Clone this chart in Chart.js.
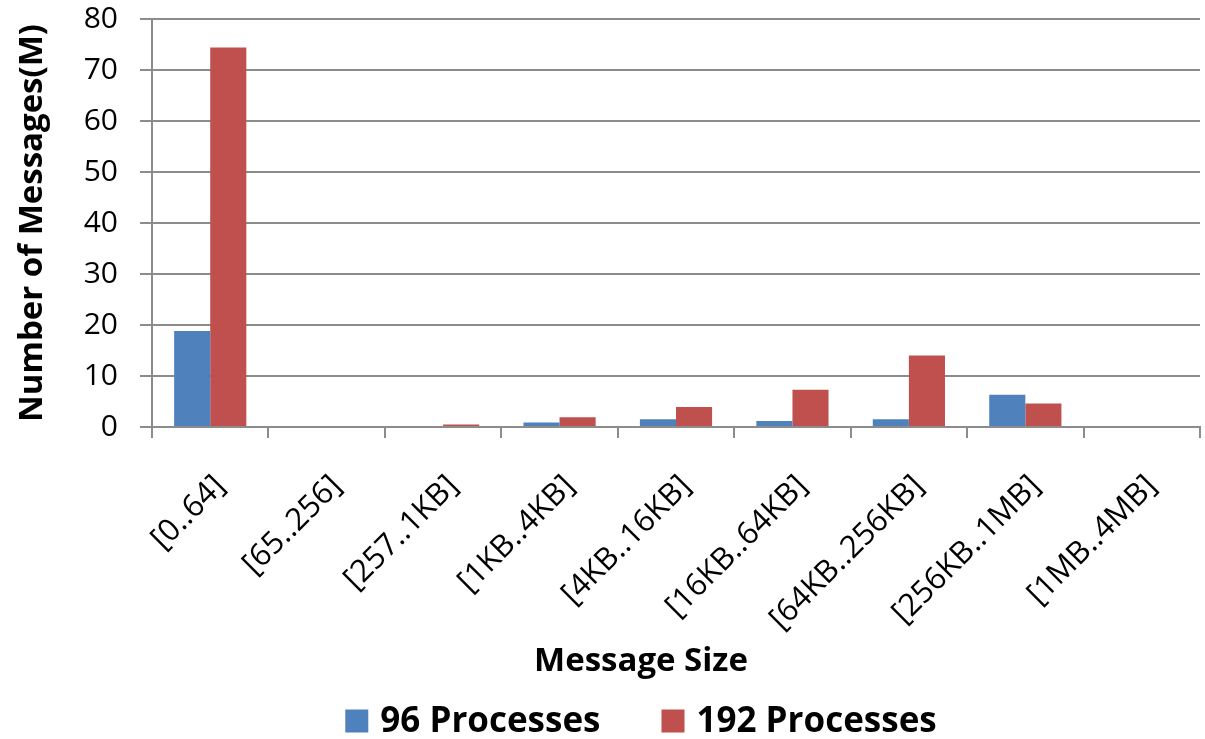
<!DOCTYPE html>
<html>
<head>
<meta charset="utf-8">
<script src="https://cdn.jsdelivr.net/npm/chart.js@4"></script>
<style>
  html, body { margin: 0; padding: 0; background: #fff; }
  #wrap { width: 1205px; height: 739px; }
</style>
</head>
<body>
<div id="wrap"><canvas id="bar"></canvas></div>
<script>
// message size buckets
const categories = ["[0..64]", "[65..256]", "[257..1KB]", "[1KB..4KB]", "[4KB..16KB]",
    "[16KB..64KB]", "[64KB..256KB]", "[256KB..1MB]", "[1MB..4MB]"];

// millions of messages
const procs96 = [18.8, 0, 0, 0.9, 1.5, 1.2, 1.5, 6.3, 0];
const procs192 = [74.4, 0, 0.5, 1.9, 3.9, 7.3, 14.0, 4.6, 0];

const yTicks = [0, 10, 20, 30, 40, 50, 60, 70, 80];

const xTitle = "Message Size";
const yTitle = "Number of Messages(M)";

const FONT = "'Open Sans', sans-serif";
const GRID = "#8c8c8c";

// x title and legend are drawn by hand so they can sit off the plot centre like the original
const titleAndLegend = {
    id: "titleAndLegend",
    afterDraw: function(chart)
    {
        let c = chart.ctx;
        const cx = 641;
        c.save();
        c.fillStyle = "#000";
        c.textBaseline = "middle";

        c.font = "bold 33px " + FONT;
        c.textAlign = "center";
        c.fillText(xTitle, cx, 662);

        c.font = "bold 35px " + FONT;
        c.textAlign = "left";
        const box = 23, gap = 12, itemGap = 61;
        const sets = chart.data.datasets;
        let total = 0;
        for(let i=0; i<sets.length; i++)
        {
            total += box + gap + c.measureText(sets[i].label).width;
            if(i > 0) total += itemGap;
        }
        let x = cx - total / 2;
        const y = 721;
        for(let i=0; i<sets.length; i++)
        {
            c.fillStyle = sets[i].backgroundColor;
            c.fillRect(x, y - box / 2, box, box);
            c.fillStyle = "#000";
            c.fillText(sets[i].label, x + box + gap, y + 1);
            x += box + gap + c.measureText(sets[i].label).width + itemGap;
        }
        c.restore();
    }
};

let ctx = document.getElementById("bar").getContext("2d");

const barData = {
    labels: categories,
    datasets: [
        {
            label: "96 Processes",
            data: procs96,
            backgroundColor: "#4f81bd",
            categoryPercentage: 0.62,
            barPercentage: 1.0
        },
        {
            label: "192 Processes",
            data: procs192,
            backgroundColor: "#c0504d",
            categoryPercentage: 0.62,
            barPercentage: 1.0
        }
    ]
};

const options = {
    responsive: true,
    maintainAspectRatio: false,
    animation: false,
    layout: {
        padding: { left: 8, right: 5, top: 19, bottom: 0 }
    },
    plugins: {
        legend: { display: false },
        tooltip: { enabled: false }
    },
    scales: {
        x: {
            afterFit: function(axis) {
                axis.height = 312;
                axis.paddingLeft = 0;
                axis.paddingRight = 0;
            },
            grid: {
                drawOnChartArea: false,
                drawTicks: true,
                tickLength: 11,
                color: GRID,
                lineWidth: 2
            },
            border: { color: GRID, width: 2 },
            ticks: {
                color: "#000",
                minRotation: 45,
                maxRotation: 45,
                padding: 30,
                labelOffset: 10,
                autoSkip: false,
                font: { family: FONT, size: 31 }
            }
        },
        y: {
            min: 0,
            max: 80,
            afterBuildTicks: function(axis) {
                axis.ticks = yTicks.map(v => ({ value: v }));
            },
            afterFit: function(axis) {
                axis.width = 144;
                axis.paddingTop = 0;
                axis.paddingBottom = 0;
            },
            grid: {
                color: GRID,
                lineWidth: 2,
                tickLength: 12
            },
            border: { color: GRID, width: 2 },
            ticks: {
                color: "#000",
                padding: 22,
                font: { family: FONT, size: 30 }
            },
            title: {
                display: true,
                text: yTitle,
                color: "#000",
                font: { family: FONT, size: 33, weight: "bold" },
                padding: { top: 5, bottom: 0 }
            }
        }
    }
};

const config = {
    type: "bar",
    data: barData,
    options: options,
    plugins: [titleAndLegend]
};

let barChart = new Chart(ctx, config);
</script>
</body>
</html>
